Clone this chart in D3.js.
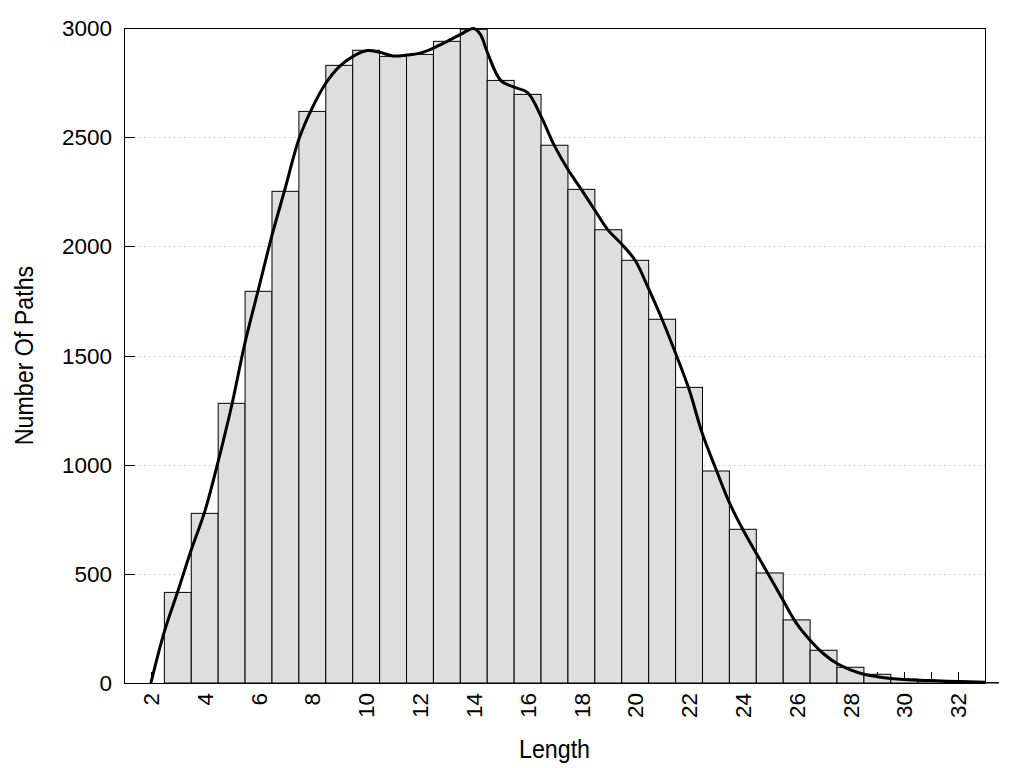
<!DOCTYPE html>
<html>
<head>
<meta charset="utf-8">
<script src="https://cdn.jsdelivr.net/npm/d3@7"></script>
<style>
  body { margin: 0; background: #fff; }
  text { font-family: "Liberation Sans", Arial, sans-serif; fill: #000; }
</style>
</head>
<body>
<svg id="chart"></svg>
<script>
const lengths = [3, 4, 5, 6, 7, 8, 9, 10, 11, 12, 13, 14, 15, 16, 17, 18, 19, 20,
  21, 22, 23, 24, 25, 26, 27, 28, 29, 30, 31, 32, 33];
const pathCounts = [415, 777, 1281, 1794, 2252, 2618, 2829, 2898, 2870, 2879, 2939, 2994,
  2760, 2696, 2463, 2261, 2076, 1936, 1666, 1354, 971, 704, 504, 289, 150, 72, 40,
  18, 9, 5, 2];

const curveX = [2, 2.5, 3, 3.5, 4, 4.5, 5, 5.5, 6, 6.5, 7, 7.5, 8, 8.5, 9, 9.5, 10, 10.5,
  11, 11.5, 12, 12.5, 13, 13.5, 14, 14.25, 14.5, 15, 15.5, 16, 16.5, 17, 17.5, 18, 18.5,
  19, 19.5, 20, 20.5, 21, 21.5, 22, 22.5, 23, 23.5, 24, 24.5, 25, 25.5, 26, 26.5, 27,
  27.5, 28, 28.5, 29, 29.5, 30, 31, 32, 33];
const curveY = [0, 235, 420, 610, 785, 1015, 1270, 1560, 1805, 2050, 2270, 2490, 2635,
  2747, 2823, 2869, 2896, 2889, 2872, 2876, 2885, 2908, 2938, 2970, 2998, 2970, 2890,
  2760, 2729, 2704, 2595, 2460, 2352, 2260, 2165, 2073, 2010, 1935, 1805, 1665, 1510,
  1345, 1140, 980, 826, 703, 594, 487, 378, 272, 196, 134, 89, 60, 40, 29, 21, 16, 11,
  7, 4];

const yTicks = [0, 500, 1000, 1500, 2000, 2500, 3000];
const xTickLabels = [2, 4, 6, 8, 10, 12, 14, 16, 18, 20, 22, 24, 26, 28, 30, 32];
const xMinorTicks = d3.range(2, 33);

const width = 1024, height = 768;
const margin = { top: 28, right: 39, bottom: 85, left: 124 };
const innerW = width - margin.left - margin.right;
const innerH = height - margin.top - margin.bottom;

const svg = d3.select("#chart").attr("width", width).attr("height", height);
const g = svg.append("g").attr("transform", `translate(${margin.left},${margin.top})`);

const xScale = d3.scaleLinear().domain([1, 33]).range([0, innerW]);
const yScale = d3.scaleLinear().domain([0, 3000]).range([innerH, 0]);

// dotted grid lines
g.append("g")
  .selectAll("line")
  .data(yTicks.filter(d => d > 0 && d < 3000))
  .join("line")
  .attr("x1", 0)
  .attr("x2", innerW)
  .attr("y1", d => Math.round(yScale(d)) + 0.5)
  .attr("y2", d => Math.round(yScale(d)) + 0.5)
  .attr("stroke", "#c8c8c8")
  .attr("stroke-width", 1)
  .attr("stroke-dasharray", "1.5,3.5");

// x ticks (inward), drawn behind the bars
g.append("g")
  .selectAll("line")
  .data(xMinorTicks)
  .join("line")
  .attr("x1", d => Math.round(xScale(d)) + 0.5)
  .attr("x2", d => Math.round(xScale(d)) + 0.5)
  .attr("y1", innerH)
  .attr("y2", innerH - 11)
  .attr("stroke", "#000");

// bars
const barW = xScale(2) - xScale(1);
g.append("g")
  .selectAll("rect")
  .data(lengths.map((d, i) => ({ len: d, count: pathCounts[i] })))
  .join("rect")
  .attr("x", d => xScale(d.len) - barW / 2)
  .attr("y", d => yScale(d.count))
  .attr("width", barW)
  .attr("height", d => innerH - yScale(d.count))
  .attr("fill", "#dedede")
  .attr("stroke", "#000")
  .attr("stroke-width", 1);

// y ticks (inward)
g.append("g")
  .selectAll("line")
  .data(yTicks)
  .join("line")
  .attr("x1", 0)
  .attr("x2", 11)
  .attr("y1", d => Math.round(yScale(d)) + 0.5)
  .attr("y2", d => Math.round(yScale(d)) + 0.5)
  .attr("stroke", "#000");

// smooth curve
g.append("clipPath")
  .attr("id", "plotClip")
  .append("rect")
  .attr("width", innerW)
  .attr("height", innerH + 2)
  .attr("y", -2);

g.append("path")
  .datum(curveX.map((d, i) => [d, curveY[i]]))
  .attr("clip-path", "url(#plotClip)")
  .attr("d", d3.line()
    .x(d => xScale(d[0]))
    .y(d => yScale(d[1]))
    .curve(d3.curveCatmullRom.alpha(0.5)))
  .attr("fill", "none")
  .attr("stroke", "#000")
  .attr("stroke-width", 3)
  .attr("stroke-linejoin", "round");

// frame
g.append("rect")
  .attr("x", 0.5)
  .attr("y", 0.5)
  .attr("width", innerW)
  .attr("height", innerH)
  .attr("fill", "none")
  .attr("stroke", "#000");

// y tick labels
g.append("g")
  .selectAll("text")
  .data(yTicks)
  .join("text")
  .attr("x", -12)
  .attr("y", d => yScale(d))
  .attr("dy", "0.36em")
  .attr("text-anchor", "end")
  .style("font-size", "22.5px")
  .text(d => d);

// x tick labels (rotated)
g.append("g")
  .selectAll("text")
  .data(xTickLabels)
  .join("text")
  .attr("transform", d => `translate(${xScale(d)},${innerH + 10}) rotate(-90)`)
  .attr("dy", "0.36em")
  .attr("text-anchor", "end")
  .style("font-size", "22.5px")
  .text(d => d);

// axis titles
svg.append("text")
  .attr("transform", `translate(${margin.left + innerW / 2},758) scale(0.93,1)`)
  .attr("text-anchor", "middle")
  .style("font-size", "25px")
  .text("Length");

svg.append("text")
  .attr("transform", `translate(33,${margin.top + innerH / 2}) rotate(-90) scale(0.93,1)`)
  .attr("text-anchor", "middle")
  .style("font-size", "25px")
  .text("Number Of Paths");
</script>
</body>
</html>
